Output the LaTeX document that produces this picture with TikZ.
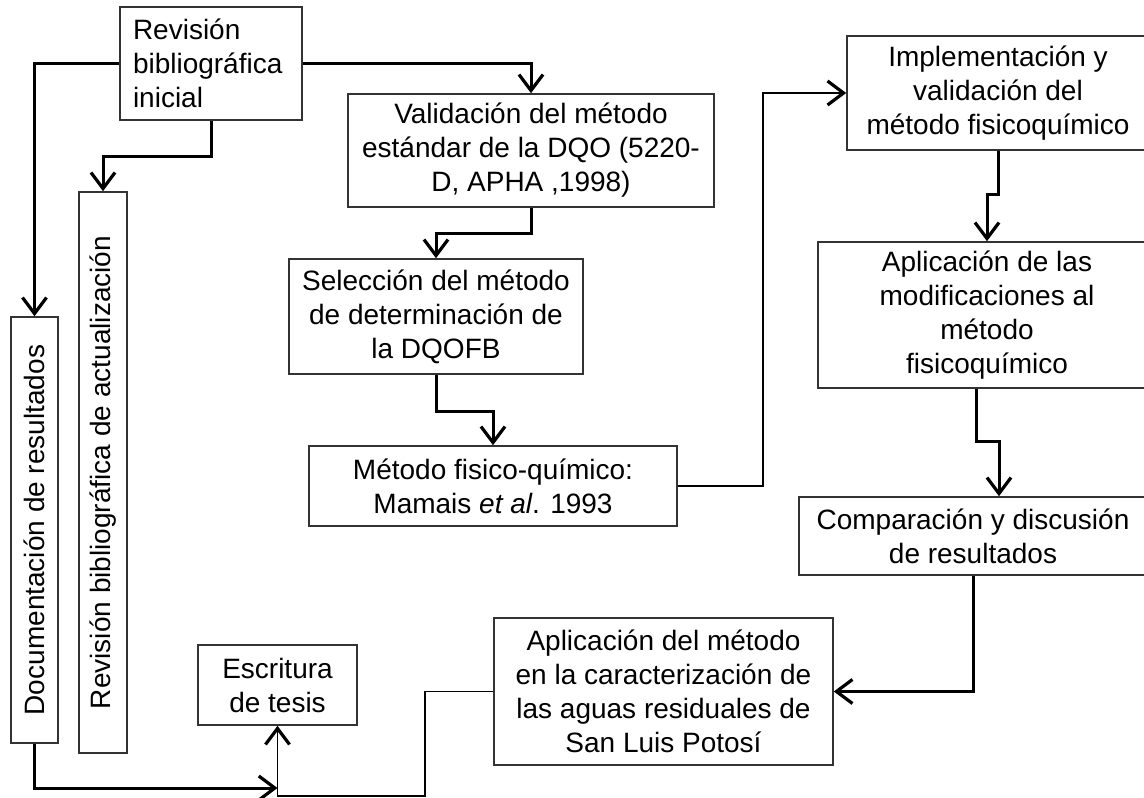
\documentclass[tikz,border=0pt]{standalone}
\usepackage{graphicx}
\usepackage{fontspec}
\setmainfont{Liberation Sans}
\usetikzlibrary{arrows.meta}

\begin{document}
\begin{tikzpicture}[x=0.5pt,y=-0.5pt]
    % Work plan of the thesis: boxes at pixel coordinates, stepped connectors.

    \tikzset{
      box/.style={draw=black!80, line width=0.8pt, fill=white, align=center,
                  inner sep=0pt, font=\fontsize{14}{17}\selectfont},
      flow/.style={line width=1.5pt, -{Straight Barb[length=8pt,width=12pt,line width=1.6pt]}},
      thinflow/.style={flow, line width=0.9pt}
    }

    \useasboundingbox (0,0) rectangle (1144,797);
    \clip (0,0) rectangle (1144,797);

    % --- left column
    \node[box, minimum width=91pt, minimum height=56.5pt, text width=78pt, align=left]
      (init) at (211,63.5) {Revisión\\bibliográfica\\inicial};
    \node[box, minimum width=23.5pt, minimum height=213pt]
      (docu) at (34.5,530) {\rotatebox{90}{Documentación de resultados}};
    \node[box, minimum width=24pt, minimum height=280.5pt]
      (actual) at (103,472.5) {\rotatebox{90}{Revisión bibliográfica de actualización}};
    \node[box, minimum width=79.5pt, minimum height=40pt]
      (escrit) at (277.5,685) {Escritura\\de tesis};

    % --- middle column
    \node[box, minimum width=183pt, minimum height=56.5pt]
      (valid) at (531,150.5) {Validación del método\\estándar de la DQO (5220-\\D, APHA ,1998)};
    \node[box, minimum width=147pt, minimum height=57.5pt]
      (selec) at (436,316.5) {Selección del método\\de determinación de\\la DQOFB};
    \node[box, minimum width=184pt, minimum height=40pt]
      (mamais) at (493,486) {Método fisico-químico:\\Mamais \textit{et al}. 1993};
    \node[box, minimum width=169.5pt, minimum height=73.5pt]
      (slp) at (663.5,691.5) {Aplicación del método\\en la caracterización de\\las aguas residuales de\\San Luis Potosí};

    % --- right column (boxes run past the right edge)
    \node[box, minimum width=151pt, minimum height=57pt]
      (implem) at (998,93) {Implementación y\\validación del\\método fisicoquímico};
    \node[box, minimum width=169pt, minimum height=73pt]
      (modif) at (987,315) {Aplicación de las\\modificaciones al\\método\\fisicoquímico};
    \node[box, minimum width=174pt, minimum height=39pt]
      (compar) at (973,536) {Comparación y discusión\\de resultados};

    \coordinate (join) at (277.5,788);

    % --- connectors
    \draw[flow] (init.west) -| (docu.north);
    \draw[flow] (init.east) -| (valid.north);
    \draw[flow] (init.south) -- ++(0,36) -| (actual.north);
    \draw[flow] (valid.south) -- ++(0,26) -| (selec.north);
    \draw[flow] (selec.south) -- ++(0,37) -| (mamais.north);
    \draw[flow, line width=1.2pt] (mamais.east) -- ++(85,0) |- (implem.west);
    \draw[flow] (implem.south) -- ++(0,44) -| (modif.north);
    \draw[flow] ([xshift=-5.5pt]modif.south) -- ++(0,53) -| ([xshift=13pt]compar.north);
    \draw[flow] (compar.south) |- (slp.east);
    \draw[thinflow] (slp.west) -- ++(-68,0) -- ++(0,104.5) -| (escrit.south);
    \draw[flow] (docu.south) |- (join);
  \end{tikzpicture}
\end{document}
